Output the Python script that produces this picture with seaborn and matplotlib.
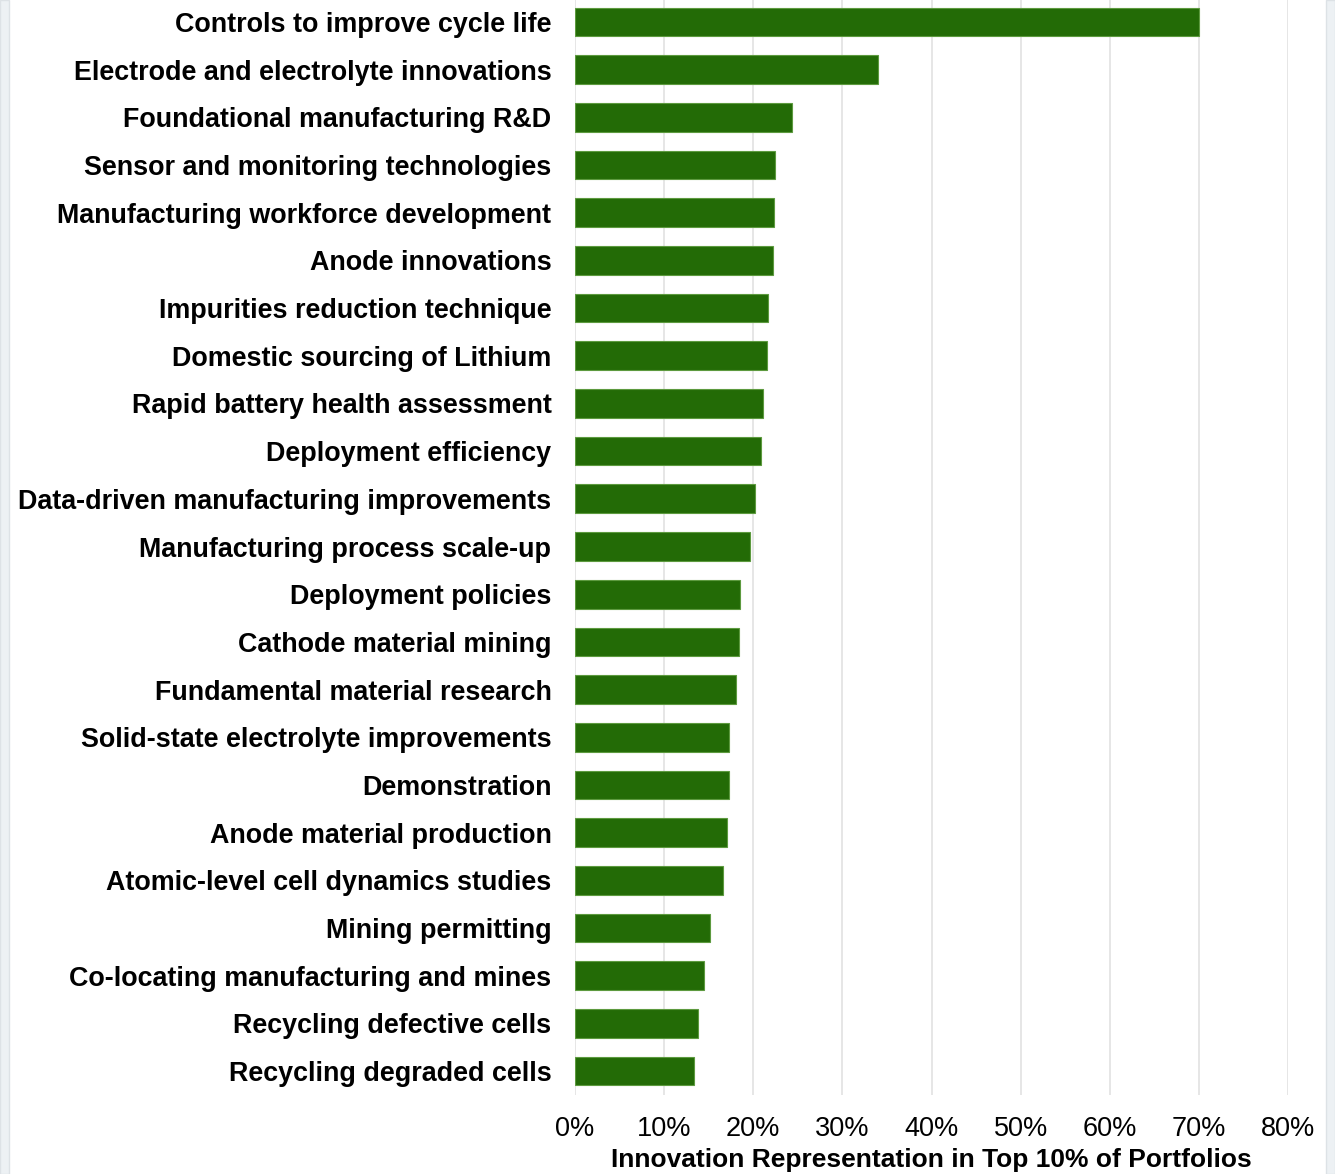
import matplotlib
matplotlib.use("Agg")
import matplotlib.pyplot as plt
import matplotlib.patches as mpatches
from matplotlib.ticker import PercentFormatter, MultipleLocator
import seaborn as sns
import pandas as pd

categories = [
    "Controls to improve cycle life",
    "Electrode and electrolyte innovations",
    "Foundational manufacturing R&D",
    "Sensor and monitoring technologies",
    "Manufacturing workforce development",
    "Anode innovations",
    "Impurities reduction technique",
    "Domestic sourcing of Lithium",
    "Rapid battery health assessment",
    "Deployment efficiency",
    "Data-driven manufacturing improvements",
    "Manufacturing process scale-up",
    "Deployment policies",
    "Cathode material mining",
    "Fundamental material research",
    "Solid-state electrolyte improvements",
    "Demonstration",
    "Anode material production",
    "Atomic-level cell dynamics studies",
    "Mining permitting",
    "Co-locating manufacturing and mines",
    "Recycling defective cells",
    "Recycling degraded cells",
]
share = [
    0.700, 0.340, 0.244, 0.224, 0.223, 0.222, 0.217, 0.215, 0.211, 0.209,
    0.202, 0.196, 0.185, 0.184, 0.181, 0.173, 0.173, 0.170, 0.166, 0.152,
    0.145, 0.138, 0.133,
]

df = pd.DataFrame({"category": categories, "share": share})

sns.set_theme(style="white")
plt.rcParams["font.family"] = ["Liberation Sans", "DejaVu Sans"]

W, H = 1335, 1174
fig = plt.figure(figsize=(W / 100, H / 100), dpi=100)
fig.patch.set_facecolor("white")

# pale side strips of the page
fig.add_artist(mpatches.Rectangle((0, 0), 9 / W, 1, transform=fig.transFigure,
                                  facecolor="#edf1f4", edgecolor="#dde2e6", lw=1))
fig.add_artist(mpatches.Rectangle((1326 / W, 0), 9 / W, 1, transform=fig.transFigure,
                                  facecolor="#edf1f4", edgecolor="#dde2e6", lw=1))

ax = fig.add_axes([575 / W, 1 - 1095 / H, (1288 - 575) / W, 1097 / H])
ax.set_facecolor("white")

sns.barplot(data=df, x="share", y="category", orient="h", color="#236b06",
            saturation=1, width=0.6, edgecolor="#5d9a3f", linewidth=0.8, ax=ax)

ax.set_xlim(0, 0.8)
ax.xaxis.set_major_locator(MultipleLocator(0.1))
ax.xaxis.set_major_formatter(PercentFormatter(1.0, decimals=0))
ax.set_axisbelow(True)
ax.grid(axis="x", color="#e2e2e2", linewidth=1.2)
ax.grid(axis="y", visible=False)
for s in ax.spines.values():
    s.set_visible(False)

ax.tick_params(axis="y", length=0, pad=17)
ax.tick_params(axis="x", length=0, pad=15)
for lab in ax.get_yticklabels():
    lab.set_fontsize(19.4)
    lab.set_fontweight("bold")
    lab.set_color("black")
for lab in ax.get_xticklabels():
    lab.set_fontsize(19.5)
    lab.set_color("black")

ax.set_ylabel("")
ax.set_xlabel("Innovation Representation in Top 10% of Portfolios",
              fontsize=19, fontweight="bold", color="black", labelpad=4.5)

fig.savefig("out.png", dpi=100, facecolor="white")
